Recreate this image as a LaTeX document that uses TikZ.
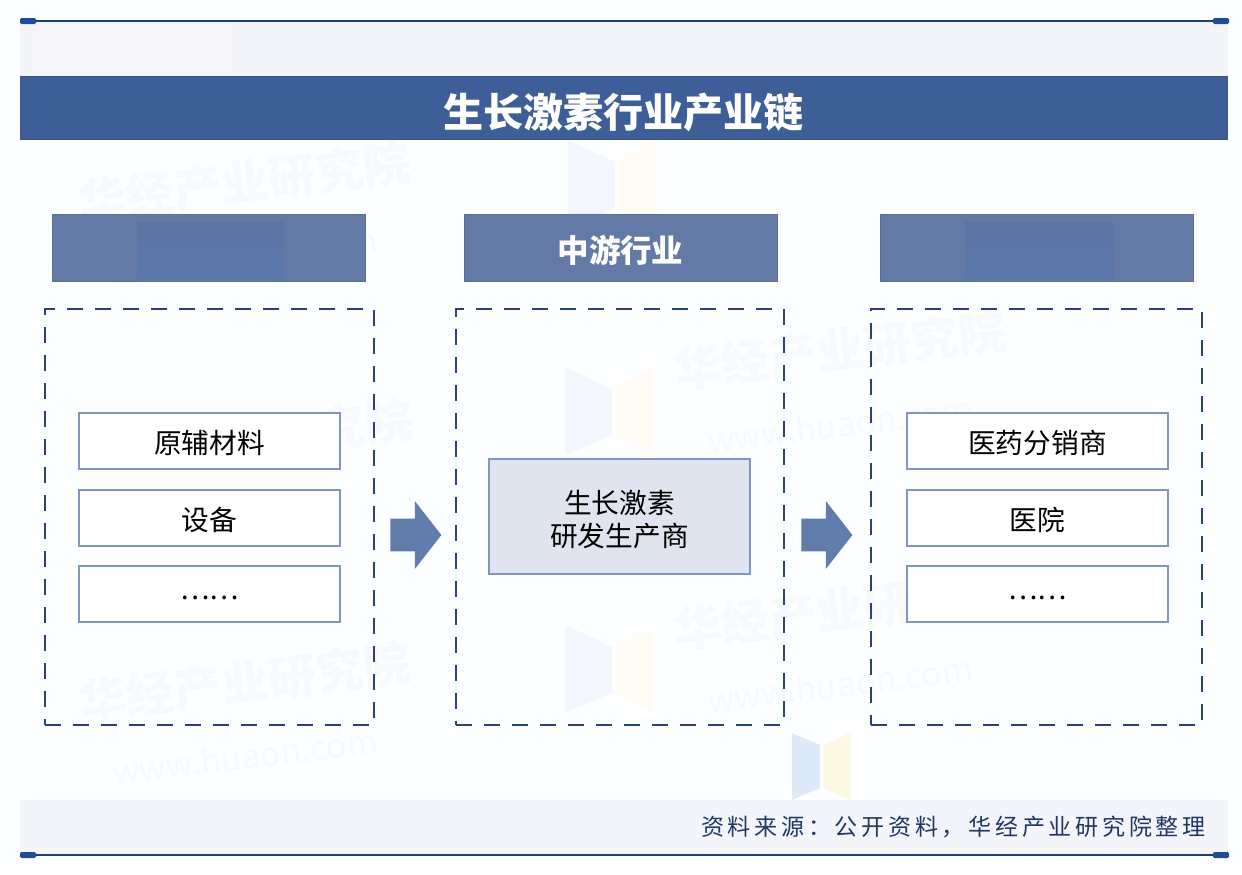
\documentclass[tikz,border=0pt]{standalone}
\usepackage{fontspec}
\setmainfont{Noto Sans CJK SC}
\newfontfamily\sourcefont[LetterSpace=16]{Noto Sans CJK SC}
\usepackage{tikz}
\usetikzlibrary{shapes.arrows}
\usepackage{xcolor}
\definecolor{pagewhite}{HTML}{FDFEFF}
\definecolor{bandgray}{HTML}{F3F5FA}
\definecolor{cornergray}{HTML}{F6F5F8}
\definecolor{titleblue}{HTML}{3E5E97}
\definecolor{headblue}{HTML}{6379A6}
\definecolor{patchblue}{HTML}{5C74A3}
\definecolor{patchlow}{HTML}{5A78AC}
\definecolor{dashnavy}{HTML}{2A4375}
\definecolor{rimblue}{HTML}{7F97BC}
\definecolor{corefill}{HTML}{E0E4EE}
\definecolor{arrowblue}{HTML}{5F7CAB}
\definecolor{ruleblue}{HTML}{1F3F77}
\definecolor{capblue}{HTML}{1F4E96}
\definecolor{sourcenavy}{HTML}{1F3864}
\definecolor{markgray}{HTML}{F8F9FB}
\definecolor{logoblue}{HTML}{F3F7FD}
\definecolor{logoyellow}{HTML}{FEFCF4}
\definecolor{logobluestrong}{HTML}{DFEAF9}
\definecolor{logoyellowstrong}{HTML}{FDF8E4}
\tikzset{
  titlebar/.style={fill=titleblue, draw=titleblue!90!black, text=white, font=\bfseries\fontsize{28.5}{32}\selectfont, text height=10.8mm, text depth=1mm, minimum width=301.75mm, minimum height=15.75mm, inner sep=0pt},
  headbox/.style={fill=headblue, draw=headblue!90!black, text=white, font=\bfseries\fontsize{22.4}{26}\selectfont, text height=8.66mm, text depth=1mm, minimum width=78.25mm, minimum height=16.75mm, inner sep=0pt},
  dashbox/.style={draw=dashnavy, line width=0.6mm, dash pattern=on 4mm off 3mm, minimum height=104mm, inner sep=0pt},
  itembox/.style={draw=rimblue, line width=0.5mm, fill=white, font=\fontsize{19.7}{24}\selectfont, text height=7.4mm, text depth=1mm, minimum width=65.25mm, minimum height=14mm, inner sep=0pt},
  corebox/.style={draw=rimblue, line width=0.5mm, fill=corefill, font=\fontsize{19.7}{24}\selectfont, align=center, text height=16.2mm, text depth=1mm, minimum width=65.25mm, minimum height=28.75mm, inner sep=0pt},
  blockarrow/.style={single arrow, fill=arrowblue, text height=8mm, text depth=0mm, text width=0mm, minimum height=12.75mm, minimum width=16.75mm, single arrow head extend=4.375mm, single arrow tip angle=104, inner sep=0pt},
  watermark/.style={text=markgray, font=\bfseries\fontsize{34}{38}\selectfont, rotate=7},
  webmark/.style={text=markgray, font=\fontsize{24}{28}\selectfont, rotate=7}
}
\begin{document}
\begin{tikzpicture}[x=0.25mm,y=-0.25mm]
  \useasboundingbox (0,0) rectangle (1242,874);
  \fill[pagewhite] (0,0) rectangle (1242,874);
  % faint marks behind everything
  \foreach \x/\y in {245/182,245/682,840/350,840/610} {
    \node[watermark] at (\x,\y) {华经产业研究院};
    \node[webmark] at (\x,\y+74) {www.huaon.com};
  }
  \node[watermark] at (365,424) {究院};
  \foreach \x/\y in {568/140,565/367,565/625} {
    \fill[logoblue] (\x,\y) -- (\x+47,\y+22) -- (\x+47,\y+68) -- (\x,\y+88) -- cycle;
    \fill[logoyellow] (\x+50,\y+20) -- (\x+88,\y) -- (\x+88,\y+88) -- (\x+50,\y+68) -- cycle;
  }
  \fill[logobluestrong] (792,733) -- (820,745) -- (820,788) -- (792,800) -- cycle;
  \fill[logoyellowstrong] (823,745) -- (850,733) -- (850,800) -- (823,788) -- cycle;
  % bands and rules
  \fill[bandgray] (20,22) rectangle (1228,76);
  \fill[bandgray] (20,800) rectangle (1228,855);
  \fill[cornergray] (38,27) rectangle (232,74);
  \draw[ruleblue, line width=0.5mm] (20,21) -- (1228,21);
  \draw[ruleblue, line width=0.5mm] (20,855) -- (1228,855);
  \foreach \x in {20,1213} {
    \fill[capblue, rounded corners=1pt] (\x,18) rectangle (\x+16,24);
    \fill[capblue, rounded corners=1pt] (\x,852) rectangle (\x+16,858);
  }
  \node[titlebar] (titlebar) at (623.5,107.5) {生长激素行业产业链};
  % three columns
  \node[headbox] (headup) at (208.5,247.5) {};
  \node[headbox] (headmid) at (620.5,247.5) {中游行业};
  \node[headbox] (headdown) at (1036.5,247.5) {};
  \shade[top color=patchblue, bottom color=patchlow] (137,222) rectangle (284,279);
  \shade[top color=patchblue, bottom color=patchlow] (965,222) rectangle (1113,279);
  \node[dashbox, minimum width=82.25mm] (dashup) at (209.5,517) {};
  \node[dashbox, minimum width=82mm] (dashmid) at (620,517) {};
  \node[dashbox, minimum width=82.75mm] (dashdown) at (1036.5,517) {};
  \node[itembox] (upa) at (209.5,440.5) {原辅材料};
  \node[itembox] (upb) at (209.5,517.5) {设备};
  \node[itembox] (upc) at (209.5,593.5) {\raisebox{1.75mm}{……}};
  \node[corebox] (core) at (619.5,516.5) {生长激素\\[0pt]研发生产商};
  \node[itembox] (downa) at (1037.5,440.5) {医药分销商};
  \node[itembox] (downb) at (1037.5,517.5) {医院};
  \node[itembox] (downc) at (1037.5,593.5) {\raisebox{1.75mm}{……}};
  \node[blockarrow] (arrowup) at (409.5,535) {};
  \node[blockarrow] (arrowdown) at (820.5,535) {};
  \node[anchor=east, text=sourcenavy, font=\sourcefont\fontsize{16.4}{20}\selectfont, inner sep=0pt] (source) at (1206,827) {资料来源：公开资料，华经产业研究院整理};
\end{tikzpicture}
\end{document}
